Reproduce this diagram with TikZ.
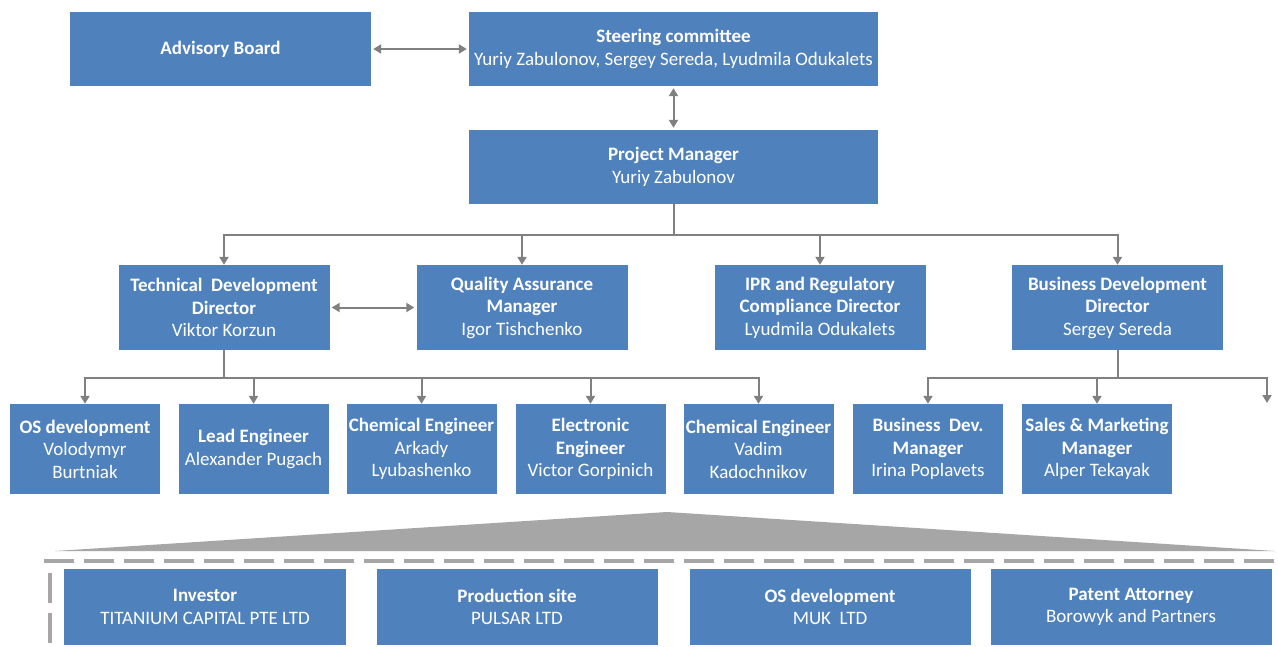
\documentclass[tikz,border=0pt]{standalone}
\usepackage{fontspec}
\setmainfont{Carlito}
\usetikzlibrary{arrows.meta}
\definecolor{boxblue}{HTML}{4F81BD}
\definecolor{linegray}{HTML}{808080}
\definecolor{shadegray}{HTML}{A6A6A6}
\tikzset{
  orgbox/.style={fill=boxblue, text=white, align=center, inner sep=0pt,
    font=\fontsize{19}{22.5}\selectfont},
  tree/.style={linegray, line width=2pt, -{Triangle[width=9pt,length=8pt]}},
  twoway/.style={linegray, line width=2pt,
    {Triangle[width=9pt,length=8pt]}-{Triangle[width=9pt,length=8pt]},
    shorten <=2pt, shorten >=2pt},
  dashrule/.style={shadegray, line width=4pt, dash pattern=on 30pt off 10pt}
}
\begin{document}
\begin{tikzpicture}[x=1pt,y=-1pt]
    \useasboundingbox[fill=white] (0,0) rectangle (1278,646);
    % Top level
    \node[orgbox, minimum width=301pt, minimum height=74pt] (adv) at (220.5,49) {\textbf{Advisory Board}};
    \node[orgbox, minimum width=409pt, minimum height=74pt] (steer) at (673.5,49)
      {\textbf{Steering committee}\\Yuriy Zabulonov, Sergey Sereda,\ Lyudmila Odukalets};
    \node[orgbox, minimum width=409pt, minimum height=74pt] (pm) at (673.5,167)
      {\textbf{Project Manager}\\Yuriy Zabulonov};
    % Directors
    \node[orgbox, minimum width=211pt, minimum height=85pt] (tdd) at (224,307.5)
      {\textbf{Technical\ \ Development}\\\textbf{Director}\\Viktor Korzun};
    \node[orgbox, minimum width=211pt, minimum height=85pt] (qa) at (522,307.5)
      {\textbf{Quality Assurance}\\\textbf{Manager}\\Igor Tishchenko};
    \node[orgbox, minimum width=211pt, minimum height=85pt] (ipr) at (820,307.5)
      {\textbf{IPR and Regulatory}\\\textbf{Compliance Director}\\Lyudmila Odukalets};
    \node[orgbox, minimum width=211pt, minimum height=85pt] (bdd) at (1117.5,307.5)
      {\textbf{Business Development}\\\textbf{Director}\\Sergey Sereda};
    % Staff
    \node[orgbox, minimum width=150pt, minimum height=90pt] (osd) at (85,449)
      {\textbf{OS development}\\Volodymyr\\Burtniak};
    \node[orgbox, minimum width=150pt, minimum height=90pt] (lead) at (253.5,449)
      {\textbf{Lead Engineer}\\Alexander Pugach};
    \node[orgbox, minimum width=150pt, minimum height=90pt] (chemA) at (421.5,449)
      {\textbf{Chemical Engineer}\\Arkady\\Lyubashenko};
    \node[orgbox, minimum width=150pt, minimum height=90pt] (elec) at (590.5,449)
      {\textbf{Electronic}\\\textbf{Engineer}\\Victor Gorpinich};
    \node[orgbox, minimum width=150pt, minimum height=90pt] (chemB) at (758.5,449)
      {\textbf{Chemical Engineer}\\Vadim\\Kadochnikov};
    \node[orgbox, minimum width=150pt, minimum height=90pt] (bdm) at (928,449)
      {\textbf{Business\ \ Dev.}\\\textbf{Manager}\\Irina Poplavets};
    \node[orgbox, minimum width=150pt, minimum height=90pt] (sales) at (1097,449)
      {\textbf{Sales \& Marketing}\\\textbf{Manager}\\Alper Tekayak};
    \coordinate (spare) at (1267,403);
    % Connectors
    \draw[twoway] (adv) -- (steer);
    \draw[twoway] (steer) -- (pm);
    \draw[twoway] (tdd) -- (qa);
    \foreach \n in {tdd,qa,ipr,bdd}
      \draw[tree] (pm.south) -- ++(0,31) -| (\n.north);
    \foreach \n in {osd,lead,chemA,elec,chemB}
      \draw[tree] (tdd.south) -- ++(0,28) -| (\n.north);
    \foreach \n in {bdm,sales,spare}
      \draw[tree] (bdd.south) -- ++(0,28) -| (\n);
    % Partners wedge
    \fill[shadegray] (55,551) -- (667,512) -- (1275,551) -- cycle;
    \draw[dashrule] (44,561) -- (1278,561);
    \draw[dashrule] (50,573) -- (50,646);
    % Partners
    \node[orgbox, minimum width=282pt, minimum height=76pt] (inv) at (205,607)
      {\textbf{Investor}\\TITANIUM CAPITAL PTE LTD};
    \node[orgbox, minimum width=281pt, minimum height=76pt] (prod) at (517,607)
      {\textbf{Production site}\\PULSAR LTD};
    \node[orgbox, minimum width=281pt, minimum height=76pt] (osdev) at (830,607)
      {\textbf{OS development}\\MUK\ \ LTD};
    \node[orgbox, minimum width=281pt, minimum height=76pt] (pat) at (1131,607)
      {\textbf{Patent Attorney}\\Borowyk and Partners};
\end{tikzpicture}
\end{document}
